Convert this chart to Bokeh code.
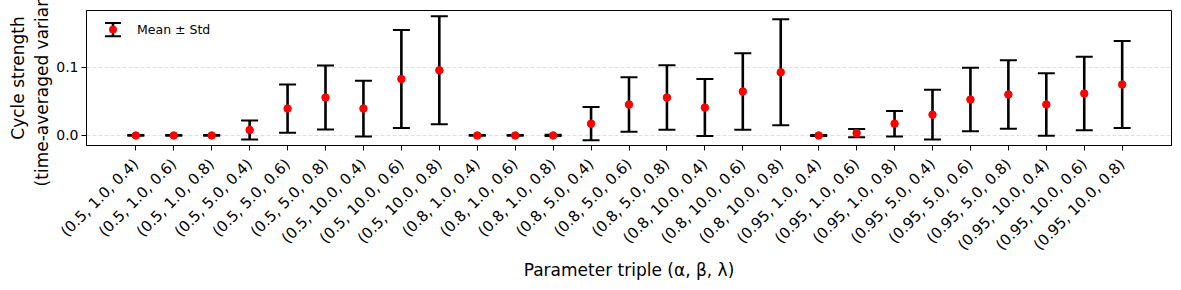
import math
from bokeh.plotting import figure
from bokeh.models import (ColumnDataSource, Range1d, FixedTicker, Whisker, TeeHead,
                          Legend, LegendItem)
from bokeh.embed import file_html
from bokeh.resources import INLINE

# ---------------- data ----------------
categories = [
    "(0.5, 1.0, 0.4)", "(0.5, 1.0, 0.6)", "(0.5, 1.0, 0.8)",
    "(0.5, 5.0, 0.4)", "(0.5, 5.0, 0.6)", "(0.5, 5.0, 0.8)",
    "(0.5, 10.0, 0.4)", "(0.5, 10.0, 0.6)", "(0.5, 10.0, 0.8)",
    "(0.8, 1.0, 0.4)", "(0.8, 1.0, 0.6)", "(0.8, 1.0, 0.8)",
    "(0.8, 5.0, 0.4)", "(0.8, 5.0, 0.6)", "(0.8, 5.0, 0.8)",
    "(0.8, 10.0, 0.4)", "(0.8, 10.0, 0.6)", "(0.8, 10.0, 0.8)",
    "(0.95, 1.0, 0.4)", "(0.95, 1.0, 0.6)", "(0.95, 1.0, 0.8)",
    "(0.95, 5.0, 0.4)", "(0.95, 5.0, 0.6)", "(0.95, 5.0, 0.8)",
    "(0.95, 10.0, 0.4)", "(0.95, 10.0, 0.6)", "(0.95, 10.0, 0.8)",
]
means = [0.0, 0.0, 0.0, 0.008, 0.0395, 0.0558, 0.0395, 0.083, 0.0958,
         0.0, 0.0, 0.0, 0.0173, 0.0455, 0.0558, 0.041, 0.0647, 0.0929,
         0.0, 0.0035, 0.0173, 0.0306, 0.0528, 0.0602, 0.0455, 0.0617, 0.075]
stds = [0.0005, 0.0005, 0.0005, 0.014, 0.0355, 0.047, 0.041, 0.072, 0.0795,
        0.0005, 0.0005, 0.001, 0.0245, 0.040, 0.0475, 0.042, 0.0563, 0.078,
        0.0008, 0.006, 0.0187, 0.0365, 0.0467, 0.0503, 0.046, 0.0539, 0.064]
y_ticks = [0.0, 0.1]
y_tick_labels = ["0.0", "0.1"]

FONT = "DejaVu Sans"

idx = list(range(len(categories)))
src = ColumnDataSource(dict(
    x=idx, mean=means,
    upper=[m + s for m, s in zip(means, stds)],
    lower=[m - s for m, s in zip(means, stds)],
))

FRAME_W, FRAME_H = 1085, 135

p = figure(width=1181, height=290, output_backend="svg", toolbar_location=None,
           x_range=Range1d(-1.3, 27.3), y_range=Range1d(-0.0148, 0.1838),
           min_border_left=86, min_border_right=10, min_border_top=10, min_border_bottom=145)
p.extra_x_ranges = {"px": Range1d(0, FRAME_W)}
p.extra_y_ranges = {"px": Range1d(FRAME_H, 0)}

p.background_fill_color = "white"
p.outline_line_color = "black"
p.outline_line_width = 1
p.outline_line_alpha = 1

p.xgrid.visible = False
p.ygrid.grid_line_color = "#cccccc"
p.ygrid.grid_line_dash = "4 2"
p.ygrid.grid_line_width = 0.8
p.ygrid.grid_line_alpha = 0.8

# axes
p.xaxis.ticker = FixedTicker(ticks=idx)
p.xaxis.major_label_overrides = {i: c for i, c in zip(idx, categories)}
p.xaxis.major_label_orientation = math.pi / 4
p.yaxis.ticker = FixedTicker(ticks=y_ticks)
p.yaxis.major_label_overrides = {t: l for t, l in zip(y_ticks, y_tick_labels)}
for ax in (p.xaxis, p.yaxis):
    ax.major_label_text_font = FONT
    ax.major_label_text_font_size = "14px"
    ax.major_label_text_color = "black"
    ax.axis_label_text_font = FONT
    ax.axis_label_text_font_size = "17px"
    ax.axis_label_text_font_style = "normal"
    ax.axis_label_text_color = "black"
    ax.axis_line_color = "black"
    ax.major_tick_line_color = "black"
    ax.major_tick_out = 5
    ax.major_tick_in = 0
    ax.minor_tick_line_color = None
    ax.major_label_standoff = 3
p.xaxis.major_label_text_font_size = "15px"
p.xaxis.major_label_standoff = 11
p.xaxis.axis_label = "Parameter triple (α, β, λ)"
p.xaxis.axis_label_standoff = -3
p.yaxis.axis_label = "Cycle strength\n(time-averaged variance)"
p.yaxis.axis_label_standoff = 1

# error bars
wh = Whisker(source=src, base="x", upper="upper", lower="lower", dimension="height",
             line_color="black", line_width=2.6,
             upper_head=TeeHead(size=17, line_color="black", line_width=2),
             lower_head=TeeHead(size=17, line_color="black", line_width=2))
p.add_layout(wh)

dots = p.scatter("x", "mean", source=src, size=7.5, color="red", line_color="red")

# legend errorbar icon (screen-like extra ranges)
leg_src = ColumnDataSource(dict(x=[26.5], up=[12.4], lo=[25.7]))
leg_wh = Whisker(source=leg_src, base="x", upper="up", lower="lo", dimension="height",
                 x_range_name="px", y_range_name="px",
                 line_color="black", line_width=2.6,
                 upper_head=TeeHead(size=16, line_color="black", line_width=2),
                 lower_head=TeeHead(size=16, line_color="black", line_width=2))
p.add_layout(leg_wh)

legend = Legend(items=[LegendItem(label="Mean ± Std", renderers=[dots])],
                location="top_left", margin=2, padding=8, spacing=0,
                glyph_width=33, glyph_height=18, label_standoff=8,
                label_text_font=FONT, label_text_font_size="12.5px",
                label_text_color="black",
                border_line_alpha=0, background_fill_alpha=0)
p.add_layout(legend)

open("out.html", "w").write(file_html(p, INLINE))
